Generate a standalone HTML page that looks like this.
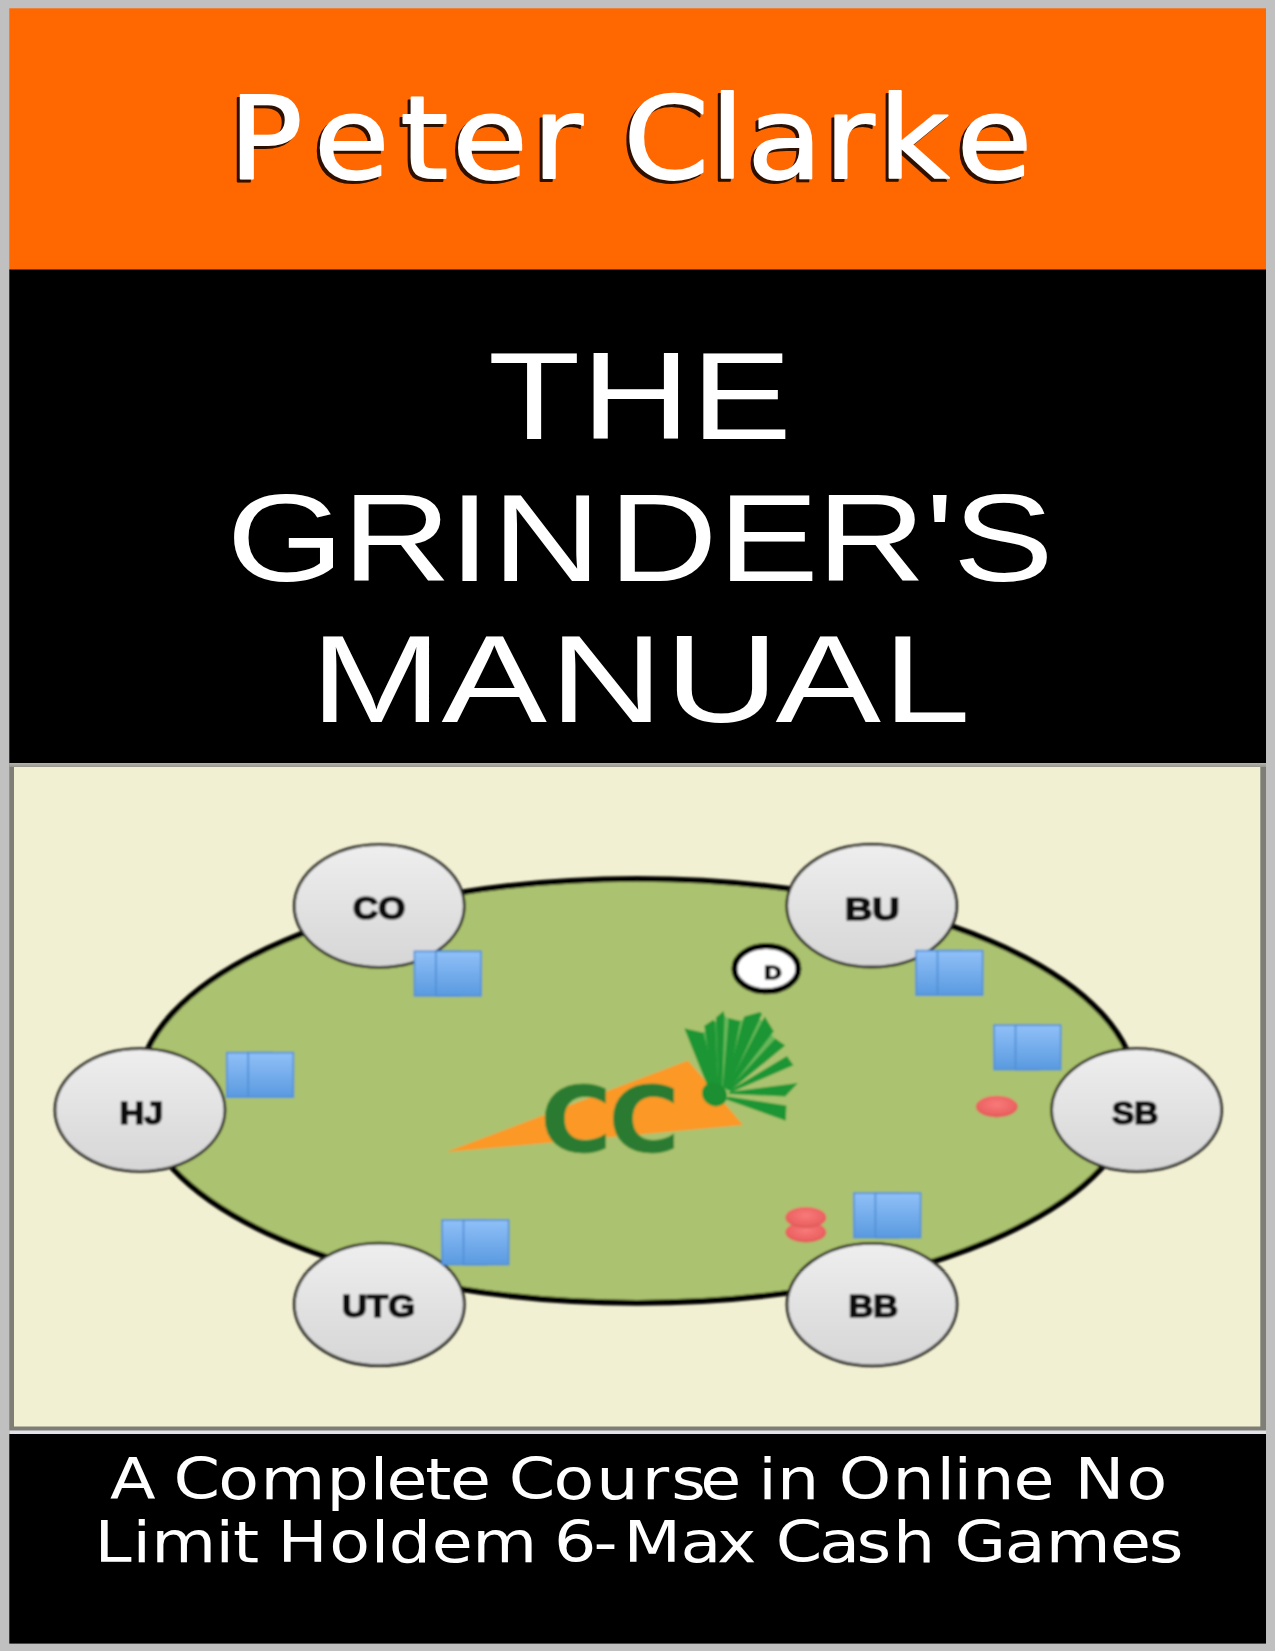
<!DOCTYPE html>
<html lang="en">
<head>
<meta charset="utf-8">
<title>The Grinder's Manual - Peter Clarke</title>
<style>
html,body{margin:0;padding:0;background:#c0c0c0;}
body{width:1275px;height:1651px;overflow:hidden;position:relative;font-family:"Liberation Sans","DejaVu Sans",sans-serif;}
svg{display:block;position:absolute;left:0;top:0;}
text{white-space:pre;}
.author{font-family:"DejaVu Sans","Liberation Sans",sans-serif;font-size:113.5px;fill:#fff;stroke:#fff;stroke-width:1.8px;stroke-linejoin:round;}
.title{font-family:"Liberation Sans","DejaVu Sans",sans-serif;font-size:125px;fill:#fff;}
.sub{font-family:"DejaVu Sans","Liberation Sans",sans-serif;font-size:56.5px;fill:#fff;}
.seat{font-family:"Liberation Sans","DejaVu Sans",sans-serif;font-weight:bold;font-size:31.0px;fill:#0a0a0a;stroke:#0a0a0a;stroke-width:1.7px;stroke-linejoin:round;}
.logo{font-family:"DejaVu Sans","Liberation Sans",sans-serif;font-weight:bold;font-size:90px;fill:#2c7a30;stroke:#3d8a3a;stroke-width:1px;}
</style>
</head>
<body>
<svg width="1275" height="1651" viewBox="0 0 1275 1651">
<defs>
  <linearGradient id="gseat" x1="0" y1="0" x2="0" y2="1">
    <stop offset="0" stop-color="#eeeeee"/><stop offset="1" stop-color="#d6d6d6"/>
  </linearGradient>
  <linearGradient id="gcard" x1="0" y1="0" x2="0" y2="1">
    <stop offset="0" stop-color="#90c0f8"/><stop offset="1" stop-color="#5a9ae0"/>
  </linearGradient>
  <radialGradient id="gchip" cx="0.5" cy="0.4" r="0.6">
    <stop offset="0" stop-color="#f87a7a"/><stop offset="0.7" stop-color="#ee6464"/><stop offset="1" stop-color="#dc5a5a"/>
  </radialGradient>
  <linearGradient id="gtop" x1="0" y1="0" x2="0" y2="1">
    <stop offset="0" stop-color="#b4b4ae"/><stop offset="1" stop-color="#98988c"/>
  </linearGradient>
  <filter id="edge" x="-2%" y="-2%" width="104%" height="104%"><feGaussianBlur stdDeviation="0.6"/></filter>
  <filter id="tsoft" x="-2%" y="-10%" width="104%" height="120%"><feGaussianBlur stdDeviation="0.45"/></filter>
  <filter id="soft" x="-5%" y="-5%" width="110%" height="110%"><feGaussianBlur stdDeviation="0.95"/></filter>
  <filter id="sh" x="-5%" y="-20%" width="110%" height="140%" color-interpolation-filters="sRGB">
    <feGaussianBlur in="SourceGraphic" stdDeviation="0.6" result="fatb"/>
    <feOffset in="fatb" dx="-2.6" dy="2.6" result="off"/>
    <feFlood flood-color="#2e1000"/>
    <feComposite in2="off" operator="in" result="shadow"/>
    <feMerge><feMergeNode in="shadow"/><feMergeNode in="fatb"/></feMerge>
  </filter>
</defs>

<!-- page background -->
<rect x="0" y="0" width="1275" height="1651" fill="#c0c0c0"/>

<!-- author band -->
<g filter="url(#edge)">
<rect x="9.3" y="8.3" width="1256.7" height="262" fill="#ff6701"/>
<rect x="9.3" y="269.5" width="1256.7" height="494" fill="#000"/>
<rect x="9.3" y="763" width="1256.7" height="671" fill="#7e7e76"/>
<rect x="9.3" y="763" width="1256.7" height="4" fill="url(#gtop)"/>
<rect x="9.3" y="1430.5" width="1256.7" height="3.5" fill="#e2e2e8"/>
<rect x="14" y="767" width="1246.3" height="659.5" fill="#f2f0d2"/>
<rect x="9.3" y="1434" width="1256.7" height="209.6" fill="#000"/>
</g>
<g filter="url(#sh)">
  <text class="author" transform="translate(0 178) scale(1.08 1)" x="211.8 290.7 370.6 418.7 493.0 535.2 577.3 657.7 691.8 763.1 813.5 886.0" y="0">Peter Clarke</text>
</g>

<!-- title band -->
<g filter="url(#tsoft)">
<text class="title" transform="translate(0 438.7) scale(1.208 1)" x="404.0 481.2 572.0" y="0">THE</text>
<text class="title" transform="translate(0 580.5) scale(1.212 1)" x="186.9 282.2 370.1 405.9 501.9 592.3 673.7 763.4 786.0" y="0">GRINDER'S</text>
<text class="title" transform="translate(0 722.4) scale(1.2655 1)" x="245.1 348.9 434.1 525.3 612.8 697.4" y="0">MANUAL</text>
</g>

<!-- illustration panel -->

<g id="table" filter="url(#soft)">
  <ellipse cx="637" cy="1090.8" rx="499" ry="212" fill="#abc36f" stroke="#000" stroke-width="5.8"/>

  <!-- carrot logo -->
  <polygon points="446,1152 688,1060.5 743,1125" fill="#fc9826"/>
  <polygon points="692,1037 706,1031 714,1023 723,1015 735,1022 752,1017 764,1021 771,1034 777,1041 729,1091 712,1085" fill="#68b85a"/>
  <g fill="#1b9635">
    <polygon points="684.3,1028.3 703.5,1032.7 716.7,1084.5 706.8,1084.5"/>
    <polygon points="704.3,1025.8 713.4,1019.8 715.2,1022.0 718.3,1085.6 712.8,1085.6"/>
    <polygon points="715.9,1017.6 723.5,1011.0 724.6,1015.4 722.2,1086.7 718.3,1086.7"/>
    <polygon points="728.7,1018.1 740.3,1020.9 727.6,1087.8 722.7,1087.8"/>
    <polygon points="744.1,1016.5 760.0,1012.1 762.0,1014.1 727.6,1089.5 724.9,1087.8"/>
    <polygon points="764.7,1016.5 773.8,1031.3 728.7,1090.3 726.5,1088.9"/>
    <polygon points="775.4,1038.4 785.3,1045.6 729.8,1091.1 728.0,1089.5"/>
    <polygon points="786.9,1056.0 793.5,1065.3 731.5,1092.0 729.3,1090.6"/>
    <polygon points="797.9,1082.9 785.3,1096.6 728.2,1093.9 729.8,1091.7"/>
    <polygon points="728.2,1096.6 786.4,1105.4 785.8,1120.8 726.0,1099.4"/>
  </g>
  <ellipse cx="714.5" cy="1094.4" rx="13" ry="11.5" fill="#1a8f33" transform="rotate(35 714.5 1094.4)"/>
  <text class="logo" transform="translate(540.6 1151.5) scale(1.075 1)" x="0 63.4" y="0">CC</text>

  <!-- dealer button -->
  <ellipse cx="766.4" cy="968.7" rx="32" ry="22.6" fill="#fff" stroke="#000" stroke-width="6"/>
  <text transform="translate(772.9 979) scale(1.3 1)" x="0" y="0" style="font-family:'Liberation Sans','DejaVu Sans',sans-serif;font-weight:bold;font-size:18.5px;fill:#0a0a0a;stroke:#0a0a0a;stroke-width:1.4px;stroke-linejoin:round;text-anchor:middle;">D</text>

  <!-- chips -->
  <ellipse cx="996.8" cy="1106.6" rx="21" ry="10.8" fill="url(#gchip)"/>
  <ellipse cx="805.8" cy="1232.3" rx="20.5" ry="10.3" fill="url(#gchip)"/>
  <ellipse cx="805.8" cy="1217.5" rx="20.5" ry="10.5" fill="url(#gchip)"/>

  <!-- seats -->
  <g fill="url(#gseat)" stroke="#262622" stroke-width="2.8">
    <ellipse cx="379.3" cy="906" rx="85" ry="61.3"/>
    <ellipse cx="871.7" cy="905.7" rx="85" ry="61.3"/>
    <ellipse cx="140" cy="1110" rx="85" ry="61.3"/>
    <ellipse cx="1136.6" cy="1110" rx="85" ry="61.3"/>
    <ellipse cx="379.3" cy="1304.4" rx="85" ry="61.3"/>
    <ellipse cx="872" cy="1304.6" rx="85" ry="61.3"/>
  </g>
  <text class="seat" transform="translate(353.0 919.1) scale(1.124 1)" x="0" y="0">CO</text>
  <text class="seat" transform="translate(844.9 920.0) scale(1.219 1)" x="0" y="0">BU</text>
  <text class="seat" transform="translate(119.6 1123.8) scale(1.100 1)" x="0" y="0">HJ</text>
  <text class="seat" transform="translate(1112.0 1124.2) scale(1.074 1)" x="0" y="0">SB</text>
  <text class="seat" transform="translate(342.0 1317.0) scale(1.117 1)" x="0" y="0">UTG</text>
  <text class="seat" transform="translate(848.4 1317.3) scale(1.109 1)" x="0" y="0">BB</text>

  <!-- hole cards -->
  <g fill="url(#gcard)" stroke="#4f8fd6" stroke-width="1.6">
    <g transform="translate(414.4 951.3)"><rect width="45.2" height="44.6"/><rect x="21.5" width="45.2" height="44.6"/></g>
    <g transform="translate(916.0 950.6)"><rect width="45.2" height="44.6"/><rect x="21.5" width="45.2" height="44.6"/></g>
    <g transform="translate(226.7 1052.6)"><rect width="45.2" height="44.6"/><rect x="21.5" width="45.2" height="44.6"/></g>
    <g transform="translate(994.0 1025.0)"><rect width="45.2" height="44.6"/><rect x="21.5" width="45.2" height="44.6"/></g>
    <g transform="translate(442.0 1220.0)"><rect width="45.2" height="44.6"/><rect x="21.5" width="45.2" height="44.6"/></g>
    <g transform="translate(853.9 1193.0)"><rect width="45.2" height="44.6"/><rect x="21.5" width="45.2" height="44.6"/></g>
  </g>
</g>

<!-- subtitle band -->
<g filter="url(#tsoft)">
<text class="sub" transform="translate(0 1499.3) scale(1.18 1)" x="93.2 120.1 147.0 184.9 220.8 276.6 313.3 327.5 360.4 381.3 406.2 431.1 469.1 505.4 543.8 568.9 593.4 617.9 642.5 658.5 684.6 710.8 756.4 793.6 808.1 823.9 858.9 884.8 910.7 954.6" y="0">A Complete Course in Online No</text>
<text class="sub" transform="translate(0 1562.3) scale(1.18 1)" x="80.2 112.3 128.1 182.7 197.4 216.3 235.2 279.1 314.1 329.5 365.8 400.3 434.9 469.5 503.0 528.3 576.7 607.6 632.5 657.4 694.3 725.8 756.8 782.9 809.0 851.4 886.3 940.6 973.5" y="0">Limit Holdem 6-Max Cash Games</text>
</g>
</svg>
</body>
</html>
